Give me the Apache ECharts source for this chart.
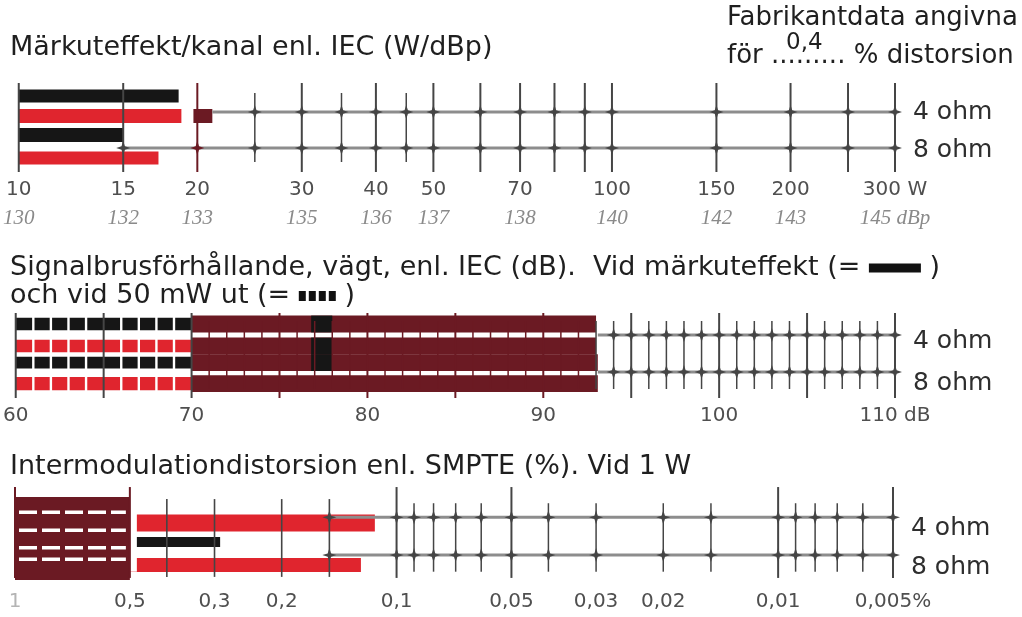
<!DOCTYPE html>
<html>
<head>
<meta charset="utf-8">
<script src="https://cdn.jsdelivr.net/npm/echarts@6/dist/echarts.min.js"></script>
<style>
html,body{margin:0;padding:0;background:#ffffff;}
#chart{width:1022px;height:617px;}
</style>
</head>
<body>
<div id="chart"></div>
<script>
// ===================== DATA =====================
const ohmNames = ['4 ohm', '8 ohm'];

// Panel 1 – Märkuteffekt/kanal (W); rows: 4 ohm black, 4 ohm red, 8 ohm black, 8 ohm red
const powerTickValues = [10, 15, 20, 30, 40, 50, 70, 100, 150, 200, 300];
const powerTickLabels = ['10', '15', '20', '30', '40', '50', '70', '100', '150', '200', '300 W'];
const powerDbpLabels = ['130', '132', '133', '135', '136', '137', '138', '140', '142', '143', '145 dBp'];
const powerGridValues = [10, 15, 20, 25, 30, 35, 40, 45, 50, 60, 70, 80, 90, 100, 150, 200, 250, 300];
const powerShortGrid = [25, 35, 45];
const powerBars = [18.6, 18.8, 15.0, 17.2];
const powerDarkMark = [19.7, 21.2];      // on the 4 ohm red row
const powerOhmStart = [21.2, 15.0];

// Panel 2 – Signalbrusförhållande (dB)
const snrTickValues = [60, 70, 80, 90, 100, 110];
const snrGridValues = [60, 61, 62, 63, 64, 65, 66, 67, 68, 69, 70, 71, 72, 73, 74, 75, 76, 77, 78, 79, 80,
  81, 82, 83, 84, 85, 86, 87, 88, 89, 90, 91, 92, 93, 94, 95, 96, 97, 98, 99, 100,
  101, 102, 103, 104, 105, 106, 107, 108, 109, 110];
const snrLightEnd = [70, 70, 70, 70];
const snrBars = [93.0, 93.0, 93.1, 93.1];
const snrBlackMark = [76.8, 78.0];       // rows 1-3
const snrOhmStart = [93.1, 93.1];

// Panel 3 – Intermodulationdistorsion SMPTE (%)
const imdTickValues = [1, 0.5, 0.3, 0.2, 0.1, 0.05, 0.03, 0.02, 0.01, 0.005];
const imdTickLabels = ['1', '0,5', '0,3', '0,2', '0,1', '0,05', '0,03', '0,02', '0,01', '0,005%'];
const imdGridValues = [1, 0.5, 0.4, 0.3, 0.2, 0.15, 0.1, 0.09, 0.08, 0.07, 0.06, 0.05, 0.04, 0.03,
  0.02, 0.015, 0.01, 0.009, 0.008, 0.007, 0.006, 0.005];
const imdLongGrid = [1, 0.5, 0.1, 0.05, 0.01, 0.005];
const imdMediumGrid = [0.4, 0.3, 0.2, 0.15];
const imdBars = [0.114, 0.29, 0.124];     // 4 ohm red, black, 8 ohm red
const imdBlock = [1, 0.5];
const imdOhmStart = [0.15, 0.15];

// ===================== STYLE / LAYOUT =====================
const FONT = 'DejaVu Sans';
const TITLE_SIZE = 27;
const RIGHT_SIZE = 26;
const COL = { black: '#161616', red: '#e0252e', dark: '#6b1a23', white: '#ffffff', tick: '#454545',
  ohm: '#8d8d8d', title: '#1f1f1f', label: '#4f4f4f', italic: '#8a8a8a', ohmText: '#2e2e2e' };
const PAL = [COL.black, COL.red, COL.dark, COL.white];
const KIND_W = [2, 1.6, 1.5, 2.4];

const panels = [
  { grid: { left: 15, width: 880, top: 86, height: 80 }, max: 300,
    rows: [0.5, 1.5, 2.45, 3.6], barH: [0.66, 0.7, 0.7, 0.66], rowColor: [0, 1, 0, 1],
    ohmY: [1.3, 3.1], ohmStart: powerOhmStart, labelY: [1.3, 3.2],
    spans: [[-0.15, 4.3], [0.35, 3.8], [0.35, 3.8], [0, 4]], darkRange: [19.7, 21.2] },
  { grid: { left: 15, width: 880, top: 314, height: 80 }, max: 110,
    rows: [0.5, 1.6, 2.43, 3.48], barH: [0.62, 0.62, 0.58, 0.66], darkH: 0.84, rowColor: [0, 1, 0, 1],
    ohmY: [1.05, 2.9], ohmStart: snrOhmStart, labelY: [1.35, 3.45],
    spans: [[-0.05, 4.2], [0.35, 3.75], [0.35, 3.75], [0.1, 3.85]], darkRange: [70.5, 92.5] },
  { grid: { left: 15, width: 878, top: 497, height: 83 }, max: 0.005,
    rows: [1.25, 2.17, 3.28], barH: [0.82, 0.48, 0.67], rowColor: [1, 0, 1],
    ohmY: [0.98, 2.8], ohmStart: imdOhmStart, labelY: [1.5, 3.42],
    spans: [[-0.48, 3.9], [0.1, 3.85], [0.3, 3.6]], darkRange: [0.5, 1] }
];

// ===================== SERIES BUILDERS =====================
function rectBetween(api, s, e, r, h) {
  const a = api.coord([s, r - h / 2]);
  const b = api.coord([e, r + h / 2]);
  return { x: Math.min(a[0], b[0]), y: Math.min(a[1], b[1]), width: Math.abs(b[0] - a[0]), height: Math.abs(b[1] - a[1]) };
}

function barSeries(pi, data, z) {
  return {
    type: 'custom', xAxisIndex: pi, yAxisIndex: pi, z: z, silent: true,
    encode: { x: [0, 1], y: 2 },
    data: data,
    renderItem: function (params, api) {
      return {
        type: 'rect',
        shape: rectBetween(api, api.value(0), api.value(1), api.value(2), api.value(3)),
        style: { fill: PAL[api.value(4)] }
      };
    }
  };
}

function star(c, color) {
  const x = c[0], y = c[1];
  return {
    type: 'polygon',
    shape: { points: [[x - 7, y], [x - 1.7, y - 1.7], [x, y - 7], [x + 1.7, y - 1.7], [x + 7, y], [x + 1.7, y + 1.7], [x, y + 7], [x - 1.7, y + 1.7]] },
    style: { fill: color }
  };
}

function tickSeries(pi, data) {
  const P = panels[pi];
  return {
    type: 'custom', xAxisIndex: pi, yAxisIndex: pi, z: 6, silent: true,
    encode: { x: 0, y: 1 },
    data: data,
    renderItem: function (params, api) {
      const v = api.value(0), kind = api.value(1);
      const span = P.spans[kind];
      const a = api.coord([v, span[0]]), b = api.coord([v, span[1]]);
      const lo = Math.min(P.darkRange[0], P.darkRange[1]), hi = Math.max(P.darkRange[0], P.darkRange[1]);
      let color = kind === 3 ? COL.white : COL.tick;
      if (kind !== 3 && v >= lo && v <= hi) color = COL.dark;
      const children = [{ type: 'line', shape: { x1: a[0], y1: a[1], x2: b[0], y2: b[1] }, style: { stroke: color, lineWidth: KIND_W[kind] } }];
      if (kind !== 3) {
        P.ohmY.forEach(function (oy, k) {
          const xs = api.coord([P.ohmStart[k], oy])[0];
          const c = api.coord([v, oy]);
          if (c[0] >= xs - 1) children.push(star(c, color));
        });
      }
      return { type: 'group', children: children };
    }
  };
}

function ohmSeries(pi) {
  const P = panels[pi];
  return {
    type: 'custom', xAxisIndex: pi, yAxisIndex: pi, z: 5, silent: true,
    encode: { x: 0, y: 1 },
    data: P.ohmStart.map(function (s, k) { return [s, P.ohmY[k], k]; }),
    renderItem: function (params, api) {
      const k = api.value(2);
      const a = api.coord([api.value(0), P.ohmY[k]]);
      const b = api.coord([P.max, P.ohmY[k]]);
      const t = api.coord([P.max, P.labelY[k]]);
      return {
        type: 'group', children: [
          { type: 'line', shape: { x1: a[0], y1: a[1], x2: b[0], y2: b[1] }, style: { stroke: COL.ohm, lineWidth: 3 } },
          { type: 'text', x: t[0] + 18, y: t[1], style: { text: ohmNames[k], fill: COL.ohmText, fontSize: 25, fontFamily: FONT, align: 'left', verticalAlign: 'middle' } }
        ]
      };
    }
  };
}

function blockSeries() {
  return {
    type: 'custom', xAxisIndex: 2, yAxisIndex: 2, z: 4, silent: true,
    encode: { x: [0, 1] },
    data: [[imdBlock[0], imdBlock[1]]],
    renderItem: function (params, api) {
      const s = api.value(0), e = api.value(1);
      const r = rectBetween(api, s, e, 2, 4);
      const children = [{ type: 'rect', shape: r, style: { fill: COL.dark } }];
      const g = rectBetween(api, e, e, 2, 3.2);
      children.push({ type: 'rect', shape: { x: r.x + r.width, y: g.y, width: 7, height: g.height }, style: { fill: COL.white } });
      [0.74, 1.6, 2.45, 3.0].forEach(function (yy) {
        const p = api.coord([s, yy]);
        children.push({ type: 'line', shape: { x1: r.x + 4, y1: p[1], x2: r.x + r.width - 4, y2: p[1] },
          style: { stroke: COL.white, lineWidth: 3.5, lineDash: [18, 5] } });
      });
      return { type: 'group', children: children };
    }
  };
}

// ----- data for marks (built from the named arrays) -----
const P0 = panels[0], P1 = panels[1], P2 = panels[2];
const powerBarData = powerBars.map(function (v, i) { return [10, v, P0.rows[i], P0.barH[i], P0.rowColor[i]]; })
  .concat([[powerDarkMark[0], powerDarkMark[1], P0.rows[1], P0.barH[1], 2]]);
const snrBarData = snrLightEnd.map(function (v, i) { return [60, v, P1.rows[i], P1.barH[i], P1.rowColor[i]]; })
  .concat(snrBars.map(function (v, i) { return [snrLightEnd[i], v, P1.rows[i], P1.darkH, 2]; }))
  .concat([0, 1, 2].map(function (i) { return [snrBlackMark[0], snrBlackMark[1], P1.rows[i], P1.darkH, 0]; }));
const imdBarData = imdBars.map(function (v, i) { return [1, v, P2.rows[i], P2.barH[i], P2.rowColor[i]]; });

const powerTickData = powerGridValues.map(function (v) { return [v, powerShortGrid.indexOf(v) >= 0 ? 2 : 0]; });
const snrTickData = snrGridValues.map(function (v) { return [v, v % 5 === 0 ? 0 : (v < 70 ? 3 : 2)]; });
const imdTickData = imdGridValues.map(function (v) {
  return [v, imdLongGrid.indexOf(v) >= 0 ? 0 : (imdMediumGrid.indexOf(v) >= 0 ? 1 : 2)];
});

function findIdx(arr, v) {
  for (let i = 0; i < arr.length; i++) { if (Math.abs(arr[i] - v) <= Math.abs(arr[i]) * 1e-6) return i; }
  return -1;
}

const hidden = { axisLine: { show: false }, axisTick: { show: false }, splitLine: { show: false } };
function titleText(x, y, text, size, extra) {
  return { type: 'text', x: x, y: y, style: Object.assign({ text: text, fontSize: size, fontFamily: FONT, fill: COL.title, verticalAlign: 'middle' }, extra || {}) };
}

const option = {
  backgroundColor: '#ffffff',
  animation: false,
  grid: panels.map(function (p) { return Object.assign({ containLabel: false }, p.grid); }),
  xAxis: [
    Object.assign({
      gridIndex: 0, type: 'log', logBase: 10, min: 10, max: 300,
      axisLabel: {
        customValues: powerTickValues, margin: 10,
        formatter: function (v) {
          const i = findIdx(powerTickValues, v);
          return i < 0 ? '' : '{a|' + powerTickLabels[i] + '}\n{b|' + powerDbpLabels[i] + '}';
        },
        rich: {
          a: { fontSize: 20, fontFamily: FONT, color: COL.label, lineHeight: 28 },
          b: { fontSize: 21, fontFamily: 'Liberation Serif', fontStyle: 'italic', color: COL.italic, lineHeight: 28 }
        }
      }
    }, hidden),
    Object.assign({
      gridIndex: 1, type: 'value', min: 60, max: 110, interval: 10,
      axisLabel: {
        margin: 12, fontSize: 20, fontFamily: FONT, color: COL.label,
        formatter: function (v) { return v === 110 ? '110 dB' : String(v); }
      }
    }, hidden),
    Object.assign({
      gridIndex: 2, type: 'log', logBase: 10, min: 0.005, max: 1, inverse: true,
      axisLabel: {
        customValues: imdTickValues, margin: 12,
        formatter: function (v) {
          const i = findIdx(imdTickValues, v);
          if (i < 0) return '';
          return i === 0 ? '{l|' + imdTickLabels[i] + '}' : '{n|' + imdTickLabels[i] + '}';
        },
        rich: {
          n: { fontSize: 20, fontFamily: FONT, color: COL.label },
          l: { fontSize: 20, fontFamily: FONT, color: '#b4b4b4' }
        }
      }
    }, hidden)
  ],
  yAxis: [0, 1, 2].map(function (i) {
    return { gridIndex: i, type: 'value', min: 0, max: 4, inverse: true, show: false };
  }),
  graphic: [
    titleText(10, 48, 'Märkuteffekt/kanal enl. IEC (W/dBp)', TITLE_SIZE),
    titleText(727, 18, 'Fabrikantdata angivna', RIGHT_SIZE),
    titleText(727, 56, 'för ......... % distorsion', RIGHT_SIZE),
    titleText(786, 43, '0,4', 23),
    titleText(10, 268, 'Signalbrusförhållande, vägt, enl. IEC (dB).  Vid märkuteffekt (= {bar| } )', TITLE_SIZE, {
      rich: { bar: { width: 52, height: 9, backgroundColor: '#111111', fontSize: 6, lineHeight: 9, verticalAlign: 'middle' } } }),
    titleText(10, 296, 'och vid 50 mW ut (= {d| }{g| }{d| }{g| }{d| }{g| }{d| } )', TITLE_SIZE, {
      rich: {
        d: { width: 7, height: 10, backgroundColor: '#111111', fontSize: 6, lineHeight: 10, verticalAlign: 'middle' },
        g: { width: 3, height: 10, fontSize: 6, lineHeight: 10, verticalAlign: 'middle' }
      } }),
    titleText(10, 467, 'Intermodulationdistorsion enl. SMPTE (%). Vid 1 W', TITLE_SIZE)
  ],
  series: [
    barSeries(0, powerBarData, 2),
    ohmSeries(0),
    tickSeries(0, powerTickData),
    barSeries(1, snrBarData, 2),
    ohmSeries(1),
    tickSeries(1, snrTickData),
    barSeries(2, imdBarData, 2),
    blockSeries(),
    ohmSeries(2),
    tickSeries(2, imdTickData)
  ]
};

const chart = echarts.init(document.getElementById('chart'), null, { renderer: 'canvas' });
chart.setOption(option);
</script>
</body>
</html>
